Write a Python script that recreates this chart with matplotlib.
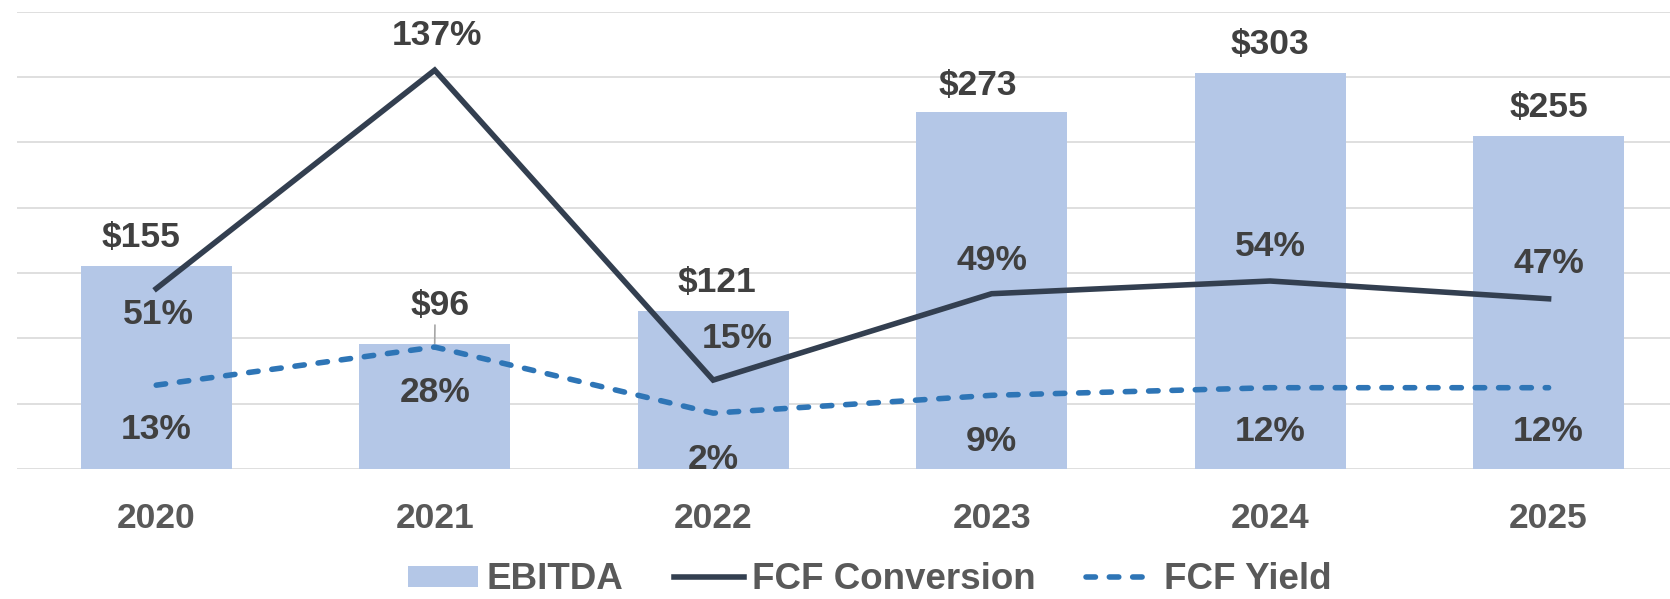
import matplotlib.pyplot as plt
import numpy as np

plt.rcParams['font.family'] = ['Liberation Sans', 'DejaVu Sans']
plt.rcParams['font.weight'] = 'bold'

# Данные
years = ['2020', '2021', '2022', '2023', '2024', '2025']
ebitda = [155, 96, 121, 273, 303, 255]
fcf_conversion = [51, 137, 15, 49, 54, 47]
fcf_yield = [13, 28, 2, 9, 12, 12]

# Смещения подписей (в пунктах, относительно центра текста)
bar_off = [(-10.8, 23), (3.6, 29.5), (2.9, 23), (-10, 21.6), (0, 23), (0, 23)]
conv_off = [(1.4, -16.6), (1.4, 27.4), (17.3, 32.4), (0, 26.5), (0, 27.4), (0, 27.4)]
yield_off = [(0, -29.5), (0, -30.2), (0, -31), (0, -31), (0, -29.5), (0, -29.5)]

fs = 25.5
half_cap = 0.716 * fs / 2
label_color = '#404040'

fig = plt.figure(figsize=(16.7, 5.99), dpi=100)
ax = fig.add_axes([17 / 1670, 130 / 599, 1653 / 1670, 457.3 / 599])
x = np.arange(len(years))

bars = ax.bar(x, ebitda, width=0.543, color='#B4C7E7', label='EBITDA', zorder=2)
ax.set_ylim(0, 350)
ax.set_xlim(-0.5, 5.436)
ax.set_yticks(np.arange(0, 351, 50))
ax.yaxis.grid(True, color='#D9D9D9', linewidth=1.2)
ax.set_axisbelow(True)
ax.set_xticks(x)
ax.set_xticklabels(years, fontsize=fs, color='#595959', fontweight='bold')
for s in ax.spines.values():
    s.set_visible(False)

ax2 = ax.twinx()
ax2.set_ylim(-20, 160)
ax2.set_axis_off()
ax.tick_params(axis='y', left=False, right=False, labelleft=False, labelright=False)
ax.tick_params(axis='x', length=0, pad=24)

l1, = ax2.plot(x, fcf_conversion, color='#333F50', linewidth=4.0,
               solid_joinstyle='miter', label='FCF Conversion')
l2, = ax2.plot(x, fcf_yield, color='#2E75B6', linewidth=4.0,
               linestyle=(0, (1.7, 2.5)), dash_capstyle='round', label='FCF Yield')

# Подписи
for i, v in enumerate(ebitda):
    dx, dy = bar_off[i]
    kw = {}
    if i == 1:
        kw['arrowprops'] = dict(arrowstyle='-', color='#A6A6A6', lw=1.2,
                                shrinkA=0, shrinkB=0, relpos=(0.42, 0))
    ax.annotate(f'${v}', (x[i], v), xytext=(dx, dy - half_cap), textcoords='offset points',
                ha='center', va='baseline', fontsize=fs, color=label_color,
                fontweight='bold', **kw)

for i, v in enumerate(fcf_conversion):
    dx, dy = conv_off[i]
    ax2.annotate(f'{v}%', (x[i], v), xytext=(dx, dy - half_cap), textcoords='offset points',
                 ha='center', va='baseline', fontsize=fs, color=label_color, fontweight='bold')

for i, v in enumerate(fcf_yield):
    dx, dy = yield_off[i]
    ax2.annotate(f'{v}%', (x[i], v), xytext=(dx, dy - half_cap), textcoords='offset points',
                 ha='center', va='baseline', fontsize=fs, color=label_color, fontweight='bold')

leg = fig.legend(handles=[bars, l1, l2], loc='center', bbox_to_anchor=(0.521, 0.032),
                 ncol=3, frameon=False, fontsize=26.5, handlelength=1.9, handleheight=0.52,
                 handletextpad=0.22, columnspacing=1.38)
for t in leg.get_texts():
    t.set_color('#595959')
    t.set_fontweight('bold')

fig.savefig('out.png', dpi=100)
